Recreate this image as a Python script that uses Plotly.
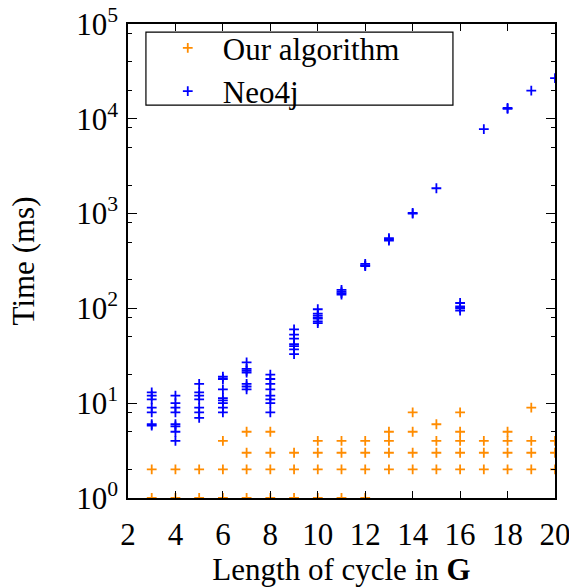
import plotly.graph_objects as go

# ---- data ----
ours_x = [3, 3, 4, 4, 5, 5, 6, 6, 6, 7, 7, 7, 7, 8, 8, 8, 8, 9, 9, 9,
          10, 10, 10, 10, 11, 11, 11, 11, 12, 12, 12, 12, 13, 13, 13, 13,
          14, 14, 14, 14, 15, 15, 15, 15, 16, 16, 16, 16, 16, 17, 17, 17,
          18, 18, 18, 18, 19, 19, 19, 19, 20, 20, 20]
ours_y = [2, 1, 2, 1, 2, 1, 4, 2, 1, 5, 3, 2, 1, 5, 3, 2, 1, 3, 2, 1,
          4, 3, 2, 1, 4, 3, 2, 1, 4, 3, 2, 1, 5, 4, 3, 2,
          8, 5, 3, 2, 6, 4, 3, 2, 8, 5, 4, 3, 2, 4, 3, 2,
          5, 4, 3, 2, 9, 4, 3, 2, 4, 3, 2]

neo_x = [3, 3, 3, 3, 3, 3, 3,
         4, 4, 4, 4, 4, 4, 4, 4,
         5, 5, 5, 5, 5, 5, 5,
         6, 6, 6, 6, 6, 6, 6, 6,
         7, 7, 7, 7, 7, 7, 7,
         8, 8, 8, 8, 8, 8, 8, 8,
         9, 9, 9, 9, 9, 9, 9,
         10, 10, 10, 10, 10, 10, 10,
         11, 11, 11, 11,
         12, 12, 12,
         13, 13, 13,
         14, 14,
         15,
         16, 16, 16, 16,
         17,
         18, 18,
         19,
         20]
neo_y = [13, 12, 11, 9, 8, 6, 5.8,
         12, 10, 9, 8, 6, 5.7, 5, 4,
         16, 13, 12, 11, 9, 8, 7,
         19, 18, 14, 11.3, 10.7, 10, 9, 8,
         27, 23, 22, 21, 16, 15, 14,
         20, 18, 16, 14, 12, 11, 10, 8,
         60, 53, 48, 42, 40, 37, 33,
         98, 88, 84, 80, 78, 73, 70,
         157, 150, 145, 140,
         295, 285, 280,
         550, 535, 520,
         1020, 1000,
         1850,
         114, 105, 101, 95,
         7800,
         13000, 12700,
         19800,
         26800]

y_tickvals = [1, 10, 100, 1000, 10000, 100000]
y_ticktext = ["10<sup>0</sup>", "10<sup>1</sup>", "10<sup>2</sup>",
              "10<sup>3</sup>", "10<sup>4</sup>", "10<sup>5</sup>"]
y_minor = [2, 5, 8, 20, 50, 80, 200, 500, 800, 2000, 5000, 8000,
           20000, 40000, 80000]
x_tickvals = [2, 4, 6, 8, 10, 12, 14, 16, 18, 20]

FONT = "Liberation Serif"
FS = 31

fig = go.Figure()
fig.add_trace(go.Scatter(
    x=ours_x, y=ours_y, mode="markers", name="Our algorithm",
    marker=dict(symbol="cross-thin", size=7,
                line=dict(color="#FF8C00", width=1.8), color="#FF8C00"),
))
fig.add_trace(go.Scatter(
    x=neo_x, y=neo_y, mode="markers", name="Neo4j",
    marker=dict(symbol="cross-thin", size=7,
                line=dict(color="#0000FF", width=1.8), color="#0000FF"),
))

fig.update_layout(
    width=569, height=588,
    margin=dict(l=128, r=14, t=24, b=90, autoexpand=False),
    paper_bgcolor="white", plot_bgcolor="white",
    font=dict(family=FONT, size=FS, color="black"),
    showlegend=True,
    legend=dict(
        x=0.058, y=1.006, xanchor="left", yanchor="top",
        bgcolor="rgba(255,255,255,0)", borderwidth=0,
        font=dict(family=FONT, size=FS, color="black"),
        itemwidth=60, tracegroupgap=0,
    ),
    shapes=[dict(type="rect", xref="paper", yref="paper",
                 x0=0.042, x1=0.761, y0=0.829, y1=0.983,
                 line=dict(color="black", width=1.2), layer="above")],
)

fig.update_xaxes(
    range=[2, 20], tickmode="array", tickvals=x_tickvals,
    ticks="inside", ticklen=7, tickwidth=1.2, tickcolor="black",
    showline=True, linecolor="black", linewidth=1.5, mirror="ticks",
    showgrid=False, zeroline=False, automargin=False,
    ticklabelstandoff=8, ticklabeloverflow="allow",
    title=dict(text="Length of cycle in <b>G</b>",
               font=dict(family=FONT, size=FS), standoff=7),
)
fig.update_yaxes(
    type="log", range=[0, 5], tickmode="array",
    tickvals=y_tickvals, ticktext=y_ticktext,
    ticks="inside", ticklen=9, tickwidth=1.2, tickcolor="black",
    minor=dict(tickmode="array", tickvals=y_minor, ticks="inside",
               ticklen=4, tickwidth=1.2, tickcolor="black", showgrid=False),
    showline=True, linecolor="black", linewidth=1.5, mirror="ticks",
    showgrid=False, zeroline=False, automargin=False,
    ticklabelstandoff=2, ticklabeloverflow="allow",
    title=dict(text="Time (ms)", font=dict(family=FONT, size=FS), standoff=32),
)

fig.write_html("out.html", config={"displayModeBar": False},
               post_script="document.body.style.margin='0px';")
